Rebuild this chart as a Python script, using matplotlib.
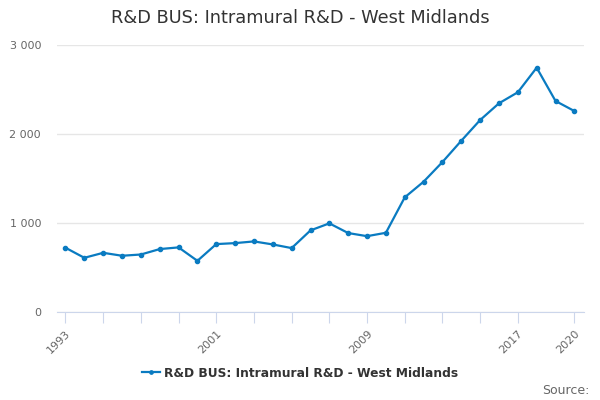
import matplotlib
matplotlib.use("Agg")
import matplotlib.pyplot as plt
from matplotlib.ticker import FuncFormatter, FixedLocator

years = list(range(1993, 2021))
values = [722, 609, 665, 632, 646, 707, 726, 575, 763, 774, 793, 759, 718, 917,
          996, 887, 852, 890, 1288, 1464, 1685, 1924, 2157, 2345, 2469, 2745, 2371, 2258]
series_name = "R&D BUS: Intramural R&D - West Midlands"
title = "R&D BUS: Intramural R&D - West Midlands"
tick_years = list(range(1993, 2018, 2)) + [2020]
label_years = [1993, 2001, 2009, 2017, 2020]
y_ticks = [0, 1000, 2000, 3000]

color = "#0a7bc1"
fig = plt.figure(figsize=(6, 4), dpi=100)
ax = fig.add_axes([0.095, 0.22, 0.878, 0.6675])

ax.plot(years, values, color=color, lw=1.6, marker="o", ms=3, zorder=3,
        label=series_name)

ax.set_xlim(1992.55, 2020.5)
ax.set_ylim(0, 3000)
ax.yaxis.set_major_locator(FixedLocator(y_ticks))
ax.yaxis.set_major_formatter(FuncFormatter(lambda v, p: f"{int(v):,}".replace(",", " ")))
ax.xaxis.set_major_locator(FixedLocator(tick_years))
ax.set_xticklabels([str(y) if y in label_years else "" for y in tick_years],
                   rotation=45, ha="right", rotation_mode="anchor")

ax.grid(axis="y", color="#e6e6e6", lw=1)
ax.set_axisbelow(True)
for s in ["top", "right", "left"]:
    ax.spines[s].set_visible(False)
ax.spines["bottom"].set_color("#ccd6eb")
ax.tick_params(axis="x", length=8, color="#ccd6eb", labelsize=8, labelcolor="#666666", pad=4)
ax.tick_params(axis="y", length=0, labelsize=8, labelcolor="#666666", pad=11.5)

fig.text(0.5, 0.955, title, ha="center", va="center", fontsize=12.8, color="#333333")
leg = fig.legend(loc="center", bbox_to_anchor=(0.5, 0.067), frameon=False,
                 prop={"weight": "bold", "size": 8.8}, handlelength=1.5,
                 handletextpad=0.3, markerscale=0.8)
for t in leg.get_texts():
    t.set_color("#333333")
fig.text(0.983, 0.025, "Source:", ha="right", va="center", fontsize=9, color="#666666")

fig.savefig("out.png", dpi=100)
